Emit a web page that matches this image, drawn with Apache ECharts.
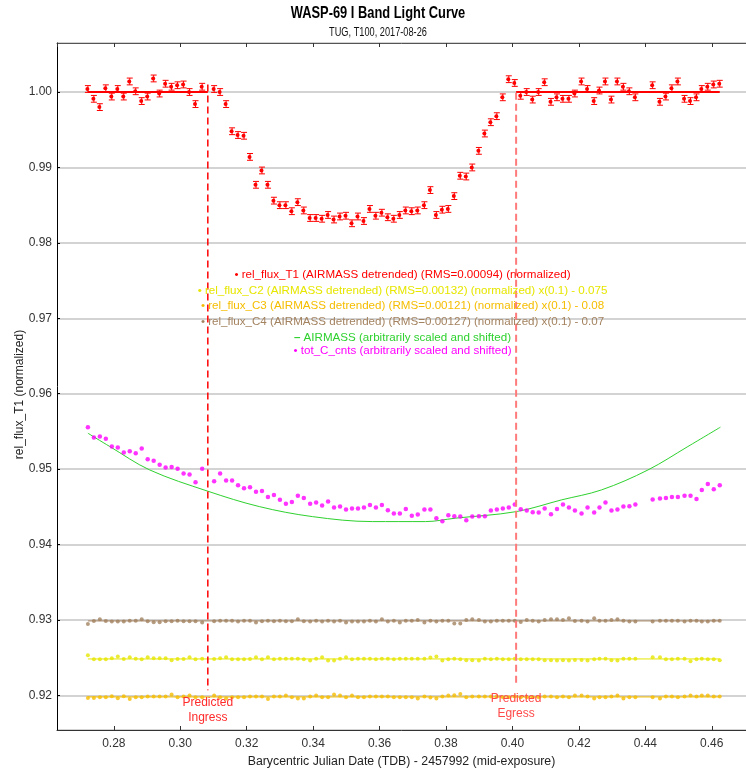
<!DOCTYPE html>
<html><head><meta charset="utf-8">
<script src="https://cdn.jsdelivr.net/npm/echarts@6/dist/echarts.min.js"></script>
<style>html,body{margin:0;padding:0;background:#fff}#chart{width:746px;height:773px}</style>
</head><body><div id="chart"></div>
<script>
// ---- data ----
const TIME = [
0.2722,0.2740,0.2758,0.2776,0.2794,0.2812,0.2830,0.2848,0.2866,0.2884,
0.2902,0.2920,0.2938,0.2956,0.2974,0.2992,0.3010,0.3028,0.3046,0.3066,
0.3102,0.3120,0.3138,0.3156,0.3174,0.3192,0.3210,0.3228,0.3246,0.3264,
0.3282,0.3300,0.3318,0.3336,0.3354,0.3372,0.3391,0.3409,0.3427,0.3445,
0.3463,0.3481,0.3499,0.3517,0.3535,0.3553,0.3571,0.3589,0.3607,0.3625,
0.3643,0.3661,0.3679,0.3697,0.3715,0.3735,0.3753,0.3771,0.3789,0.3807,
0.3825,0.3843,0.3861,0.3879,0.3899,0.3917,0.3935,0.3953,0.3971,0.3989,
0.4007,0.4025,0.4043,0.4061,0.4079,0.4097,0.4116,0.4134,0.4152,0.4170,
0.4188,0.4208,0.4226,0.4246,0.4262,0.4280,0.4298,0.4316,0.4334,0.4352,
0.4370,
0.4422,0.4444,0.4462,0.4480,0.4498,0.4518,0.4536,0.4554,0.4570,0.4588,0.4606,0.4624];

const REL_FLUX_T1 = [
1.0004,0.9991,0.9980,1.0005,0.9994,1.0004,0.9994,1.0014,1.0001,0.9988,
0.9994,1.0018,0.9998,1.0011,1.0007,1.0009,1.0010,1.0000,0.9984,1.0007,
1.0004,1.0000,0.9984,0.9948,0.9943,0.9942,0.9914,0.9877,0.9896,0.9877,
0.9856,0.9850,0.9850,0.9842,0.9854,0.9843,0.9833,0.9833,0.9832,0.9837,
0.9831,0.9835,0.9836,0.9826,0.9835,0.9829,0.9845,0.9836,0.9840,0.9834,
0.9832,0.9837,0.9843,0.9842,0.9843,0.9850,0.9870,0.9837,0.9844,0.9845,
0.9862,0.9889,0.9888,0.9900,0.9922,0.9945,0.9960,0.9968,0.9993,1.0017,
1.0012,0.9995,1.0000,0.9990,1.0000,1.0013,0.9987,0.9993,0.9991,0.9991,
0.9998,1.0014,1.0004,0.9988,1.0002,1.0014,0.9990,1.0014,1.0007,1.0001,
0.9993,
1.0009,0.9987,0.9994,1.0005,1.0014,0.9991,0.9988,0.9993,1.0004,1.0007,1.0010,1.0011];
const T1_ERR = 0.00045;

const REL_FLUX_C2 = [
0.92533,0.92480,0.92480,0.92480,0.92493,0.92515,0.92484,0.92506,0.92488,0.92480,
0.92506,0.92493,0.92493,0.92493,0.92466,0.92484,0.92484,0.92506,0.92480,0.92488,
0.92484,0.92493,0.92506,0.92480,0.92480,0.92480,0.92484,0.92506,0.92480,0.92506,
0.92480,0.92488,0.92488,0.92488,0.92488,0.92480,0.92462,0.92488,0.92506,0.92462,
0.92462,0.92488,0.92506,0.92480,0.92488,0.92488,0.92488,0.92480,0.92488,0.92488,
0.92480,
0.92488,0.92488,0.92488,0.92488,0.92488,0.92502,0.92515,0.92462,0.92480,0.92488,
0.92480,0.92466,0.92466,0.92462,0.92488,0.92480,0.92488,0.92480,0.92480,0.92488,
0.92480,0.92480,0.92480,0.92480,0.92466,0.92466,0.92462,0.92466,0.92462,0.92471,
0.92471,0.92462,0.92480,0.92488,0.92488,0.92466,0.92462,0.92488,0.92488,0.92488,
0.92506,0.92506,0.92480,0.92480,0.92488,0.92488,0.92453,0.92480,0.92488,0.92480,0.92480,0.92466];

const REL_FLUX_C3 = [
0.91967,0.91967,0.91976,0.91976,0.91989,0.91963,0.91989,0.91954,0.91976,0.91976,
0.91985,0.91985,0.91985,0.91985,0.92011,0.91976,0.91985,0.91998,0.91976,0.91976,
0.91998,0.91976,0.91958,0.91976,0.91976,0.91976,0.91985,0.91985,0.91985,0.91954,
0.91985,0.91985,0.91998,0.91976,0.91958,0.91958,0.91985,0.91998,0.91976,0.91976,
0.92011,0.91998,0.91976,0.91998,0.91976,0.91976,0.91985,0.91985,0.91985,0.91985,
0.91976,
0.91976,0.91976,0.91976,0.91958,0.91985,0.91972,0.91958,0.91985,0.91998,0.92003,
0.92020,0.91976,0.91985,0.91985,0.91985,0.91985,0.91985,0.91976,0.91976,0.91985,
0.91976,0.91976,0.91976,0.91976,0.91985,0.91985,0.91976,0.91985,0.91976,0.91998,
0.91998,0.91985,0.91958,0.91976,0.91976,0.91985,0.91998,0.91958,0.91976,0.91976,
0.91976,0.91958,0.91985,0.91985,0.91976,0.91985,0.91998,0.91985,0.91998,0.91998,0.91985,0.91985];

const REL_FLUX_C4 = [
0.92948,0.92988,0.93010,0.92988,0.92979,0.92979,0.92979,0.92992,0.92992,0.93010,
0.92984,0.92970,0.92970,0.92984,0.92984,0.92992,0.92984,0.92984,0.92984,0.92966,
0.92984,0.92992,0.92992,0.92992,0.92979,0.92992,0.92992,0.92966,0.92984,0.92992,
0.92984,0.92992,0.92984,0.92984,0.93010,0.92984,0.92979,0.92992,0.92979,0.92992,
0.92979,0.92992,0.92966,0.92979,0.92979,0.92979,0.92992,0.92979,0.93010,0.92979,
0.92992,
0.92966,0.92992,0.92992,0.93001,0.92966,0.92992,0.92979,0.92992,0.92992,0.92953,
0.92953,0.93001,0.93010,0.93001,0.92979,0.92979,0.92992,0.92992,0.92992,0.92992,
0.92975,0.93001,0.92992,0.92979,0.93001,0.93010,0.93010,0.93001,0.93023,0.92988,
0.92992,0.92979,0.93023,0.92992,0.92992,0.93001,0.93010,0.92992,0.92979,0.92979,
0.92979,0.92992,0.92992,0.92992,0.92992,0.92979,0.92992,0.92992,0.92979,0.92979,0.92992,0.92992];

const TOT_C_CNTS = [
0.95557,0.95419,0.95432,0.95402,0.95300,0.95286,0.95220,0.95239,0.95212,0.95273,
0.95132,0.95110,0.95057,0.95021,0.95030,0.95004,0.94941,0.94928,0.94827,0.95004,
0.94841,0.94941,0.94849,0.94849,0.94788,0.94748,0.94761,0.94699,0.94712,0.94632,
0.94659,0.94593,0.94540,0.94566,0.94646,0.94619,0.94540,0.94557,0.94517,0.94570,
0.94491,0.94504,0.94464,0.94477,0.94477,0.94491,0.94526,0.94491,0.94526,0.94456,
0.94411,
0.94411,0.94473,0.94384,0.94398,0.94464,0.94464,0.94350,0.94310,0.94390,0.94376,
0.94371,0.94323,0.94371,0.94376,0.94376,0.94451,0.94464,0.94477,0.94491,0.94530,
0.94469,0.94451,0.94429,0.94424,0.94477,0.94403,0.94473,0.94530,0.94491,0.94451,
0.94411,0.94491,0.94424,0.94491,0.94557,0.94451,0.94464,0.94504,0.94509,0.94530,
0.94597,0.94610,0.94619,0.94632,0.94632,0.94646,0.94646,0.94606,0.94725,0.94805,0.94735,0.94788];

const AIRMASS_TIME = [0.2722,0.2788,0.2908,0.3083,0.3238,0.3398,0.3578,0.3658,0.3738,0.3828,0.4011,0.4148,0.4268,0.4408,0.4528,0.4626];
const AIRMASS = [0.95477,0.95300,0.94990,0.94708,0.94504,0.94371,0.94305,0.94305,0.94305,0.94350,0.94437,0.94593,0.94725,0.94990,0.95300,0.95557];

const T1_MODEL_LEVEL = 1.0;
const C2_LEVEL = 0.92484, C3_LEVEL = 0.91980, C4_LEVEL = 0.92988;
const INGRESS = 0.3083, EGRESS = 0.4011;
const INGRESS_Y = [1.0010, 0.9207];
const EGRESS_Y = [0.9999, 0.9213];

const TITLE = 'WASP-69 I Band Light Curve';
const SUBTITLE = 'TUG, T100, 2017-08-26';
const LEGEND_TEXT = [
  'rel_flux_T1 (AIRMASS detrended) (RMS=0.00094) (normalized)',
  'rel_flux_C2 (AIRMASS detrended) (RMS=0.00132) (normalized) x(0.1) - 0.075',
  'rel_flux_C3 (AIRMASS detrended) (RMS=0.00121) (normalized) x(0.1) - 0.08',
  'rel_flux_C4 (AIRMASS detrended) (RMS=0.00127) (normalized) x(0.1) - 0.07',
  'AIRMASS (arbitrarily scaled and shifted)',
  'tot_C_cnts (arbitrarily scaled and shifted)'];
const LEGEND_MARK = ['•','•','•','•','–','•'];

// ---- styles ----
const COL = {t1:'#ff0000', c2:'#e6e600', c3:'#f5bd00', c4:'#a3825f', air:'#2ed12e', tot:'#ff00ff'};
const LEGEND_COL = [COL.t1, COL.c2, COL.c3, COL.c4, COL.air, COL.tot];
const FONT = 'Liberation Sans, Arial, sans-serif';

const chart = echarts.init(document.getElementById('chart'), null, {renderer:'canvas'});
const zip = (xs, ys) => xs.map((x, i) => [x, ys[i]]);
const first = TIME[0], last = TIME[TIME.length - 1];

function flatLine(name, level, color){
  return {name, type:'line', data:[[first, level],[last, level]], symbol:'none',
    lineStyle:{color, width:1}, silent:true, z:2, animation:false};
}
function dots(name, ys, color, size){
  return {name, type:'scatter', data:zip(TIME, ys), symbol:'circle', symbolSize:size,
    itemStyle:{color}, z:3, animation:false};
}
function vline(t, ys, color, width, label, labelColor){
  return {type:'line', data:[[t, ys[0]], {value:[t, ys[1]], label:{show:true, position:'bottom', distance:5,
      formatter:label, color:labelColor, fontSize:12, fontFamily:FONT, lineHeight:15, align:'center'}}],
    symbol:'circle', symbolSize:0.1, showSymbol:true, itemStyle:{color:'transparent'},
    lineStyle:{color, width, type:[7,4]}, z:6, animation:false, silent:true};
}

const legendGraphics = LEGEND_TEXT.map((t, i) => ({
  type:'text', x:402.5, y:[275, 291, 306, 322, 337.5, 351][i],
  style:{text:'{m|' + LEGEND_MARK[i] + '} ' + t, align:'center', verticalAlign:'middle',
    fill:LEGEND_COL[i], font:'11.6px ' + FONT,
    rich:{m:{fill:LEGEND_COL[i], font:(i===4 ? 'bold 11.6px ' : '11.6px ') + FONT}}},
  z:10
}));
const titleGraphics = [
  {type:'text', x:378, y:13, scaleX:0.78, style:{text:TITLE, align:'center', verticalAlign:'middle',
    fill:'#000', font:'bold 16.5px ' + FONT}, z:10},
  {type:'text', x:378, y:32, scaleX:0.72, style:{text:SUBTITLE, align:'center', verticalAlign:'middle',
    fill:'#111', font:'12.8px ' + FONT}, z:10}
];

const option = {
  backgroundColor:'#ffffff',
  animation:false,
  grid:{left:57, right:-3, top:43, bottom:43, containLabel:false},
  xAxis:[{
    type:'value', min:0.2629, max:0.4703, minInterval:0.02, maxInterval:0.02, position:'bottom',
    name:'Barycentric Julian Date (TDB) - 2457992 (mid-exposure)', nameLocation:'middle', nameGap:26,
    nameMoveOverlap:false,
    nameTextStyle:{fontSize:12.3, color:'#222', fontFamily:FONT},
    axisLine:{show:true, onZero:false, lineStyle:{color:'#333', width:1}},
    axisTick:{show:true, inside:true, length:4, lineStyle:{color:'#333'}},
    axisLabel:{fontSize:12, color:'#333', fontFamily:FONT, margin:8, showMinLabel:false, showMaxLabel:false,
      formatter:v => v.toFixed(2)},
    splitLine:{show:false}
  },{
    type:'value', min:0.2629, max:0.4703, minInterval:0.02, maxInterval:0.02, position:'top',
    axisLine:{show:true, onZero:false, lineStyle:{color:'#555', width:1}},
    axisTick:{show:true, inside:true, length:4, lineStyle:{color:'#333'}},
    axisLabel:{show:false}, splitLine:{show:false}
  }],
  yAxis:{
    type:'value', min:0.91542, max:1.0065, minInterval:0.01, maxInterval:0.01, splitNumber:9,
    name:'rel_flux_T1 (normalized)', nameLocation:'middle', nameGap:31, nameMoveOverlap:false,
    nameTextStyle:{fontSize:12, color:'#222', fontFamily:FONT, padding:[0,16,0,0]},
    axisLine:{show:true, onZero:false, lineStyle:{color:'#000', width:1}},
    axisTick:{show:true, inside:true, length:3, lineStyle:{color:'#000'}},
    axisLabel:{fontSize:12, color:'#333', fontFamily:FONT, margin:5, showMinLabel:false, showMaxLabel:false,
      formatter:v => v.toFixed(2)},
    splitLine:{show:true, lineStyle:{color:'#c4c4c4', width:1.5}}
  },
  graphic:titleGraphics.concat(legendGraphics),
  series:[
    flatLine('C4 fit', C4_LEVEL, COL.c4),
    flatLine('C2 fit', C2_LEVEL, COL.c2),
    flatLine('C3 fit', C3_LEVEL, COL.c3),
    dots('rel_flux_C4', REL_FLUX_C4, COL.c4, 4),
    dots('rel_flux_C2', REL_FLUX_C2, COL.c2, 4),
    dots('rel_flux_C3', REL_FLUX_C3, COL.c3, 4),
    {name:'AIRMASS', type:'line', data:zip(AIRMASS_TIME, AIRMASS), smooth:0.35, symbol:'none',
      lineStyle:{color:COL.air, width:1}, z:3},
    dots('tot_C_cnts', TOT_C_CNTS, COL.tot, 4.5),
    {name:'T1 model', type:'line', symbol:'none', connectNulls:false,
      data:[[first, T1_MODEL_LEVEL],[INGRESS, T1_MODEL_LEVEL],[ (INGRESS+EGRESS)/2, '-'],[EGRESS, T1_MODEL_LEVEL],[last, T1_MODEL_LEVEL]],
      lineStyle:{color:COL.t1, width:2}, z:4},
    {name:'rel_flux_T1', type:'custom', z:5,
      data:TIME.map((t, i) => [t, REL_FLUX_T1[i], T1_ERR]),
      encode:{x:0, y:1},
      renderItem:function(params, api){
        const x = api.value(0), y = api.value(1), e = api.value(2);
        const c = api.coord([x, y]), t = api.coord([x, y + e]), b = api.coord([x, y - e]);
        const hw = 3, st = {stroke:COL.t1, lineWidth:1};
        return {type:'group', children:[
          {type:'line', shape:{x1:c[0], y1:t[1], x2:c[0], y2:b[1]}, style:st},
          {type:'line', shape:{x1:c[0]-hw, y1:t[1], x2:c[0]+hw, y2:t[1]}, style:st},
          {type:'line', shape:{x1:c[0]-hw, y1:b[1], x2:c[0]+hw, y2:b[1]}, style:st},
          {type:'circle', shape:{cx:c[0]-0.5, cy:c[1], r:2}, style:{fill:COL.t1}}
        ]};
      }},
    vline(INGRESS, INGRESS_Y, '#ff0000', 1.5, 'Predicted\nIngress', '#ff2a2a'),
    vline(EGRESS, EGRESS_Y, '#ff7a7a', 2, 'Predicted\nEgress', '#ff4a4a')
  ]
};
chart.setOption(option);
</script>
</body></html>
